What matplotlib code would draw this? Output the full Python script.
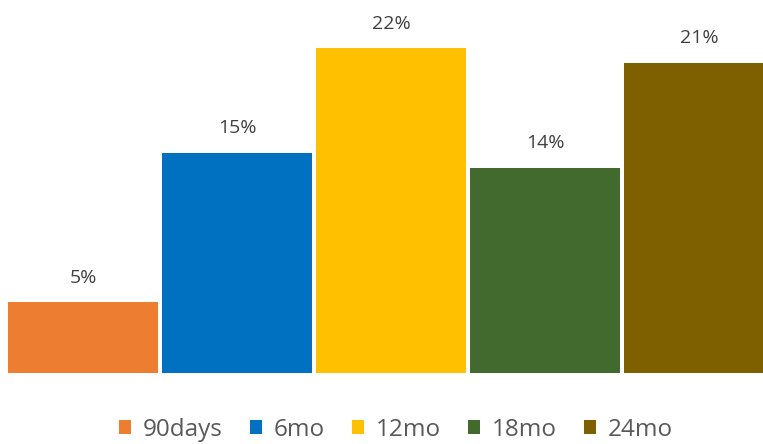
import matplotlib.pyplot as plt
from matplotlib.patches import Patch

categories = ["90days", "6mo", "12mo", "18mo", "24mo"]
values = [4.8, 14.9, 22.0, 13.9, 21.0]
colors = ["#ED7D31", "#0070C0", "#FFC000", "#436A2E", "#7F6000"]

plt.rcParams["font.family"] = ["Open Sans", "DejaVu Sans"]

fig = plt.figure(figsize=(7.63, 4.44), dpi=100)
ax = fig.add_axes([0, 71 / 444, 1, 373 / 444])

xs = range(len(categories))
ax.bar(xs, values, width=150 / 154, color=colors, linewidth=0)
for x, v in zip(xs, values):
    ax.text(x, v + 1.05, f"{round(v):.0f}%", ha="center", va="bottom",
            fontsize=14, color="#404040")

ax.set_xlim(-83 / 154, (763 - 83) / 154)
ax.set_ylim(0, 373 / 14.77)
ax.axis("off")

handles = [Patch(facecolor=c, edgecolor="none", label=l) for c, l in zip(colors, categories)]
fig.legend(handles=handles, loc="center", bbox_to_anchor=(0.519, 1 - 430 / 444),
           ncol=5, frameon=False, fontsize=17.5, labelcolor="#595959",
           handlelength=0.5, handleheight=0.5, handletextpad=0.5, columnspacing=1.1)

fig.savefig("out.png", dpi=100)
